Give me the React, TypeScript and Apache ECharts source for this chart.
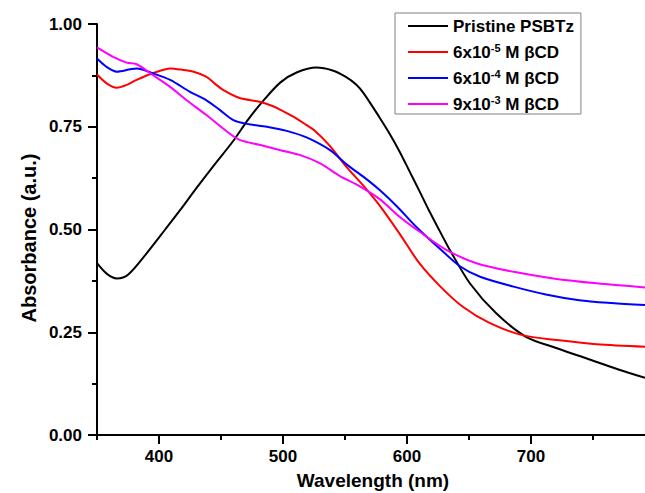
import React, { useEffect, useRef } from "react";
import * as echarts from "echarts";

const FONT = "'Liberation Sans', Arial, Helvetica, sans-serif";

const seriesNames = ["Pristine PSBTz", "6x10-5 M βCD", "6x10-4 M βCD", "9x10-3 M βCD"];
const legendRich = ["Pristine PSBTz", "6x10{sup|-5} M βCD", "6x10{sup|-4} M βCD", "9x10{sup|-3} M βCD"];
const seriesColors = ["#000000", "#ff0000", "#0000ff", "#ff00ff"];

const xMajorTicks = [400, 500, 600, 700];
const xMinorTicks = [350, 450, 550, 650, 750];

const pristineX = [350, 358, 366, 375, 390, 405, 417, 430, 444, 460, 472, 484, 498, 511, 527, 540, 551, 559, 565, 578, 586, 594, 602, 610, 618, 627, 635, 651, 672, 696, 721, 746, 770, 792];
const pristineY = [0.418, 0.392, 0.381, 0.39, 0.442, 0.5, 0.547, 0.6, 0.655, 0.716, 0.768, 0.813, 0.858, 0.882, 0.894, 0.887, 0.871, 0.853, 0.832, 0.772, 0.733, 0.69, 0.642, 0.594, 0.545, 0.493, 0.448, 0.368, 0.296, 0.239, 0.211, 0.185, 0.16, 0.139];

const cd5X = [350, 358, 366, 374, 382, 395, 409, 420, 428, 438, 445, 452, 465, 481, 492, 498, 511, 519, 525, 538, 551, 565, 578, 594, 610, 627, 645, 667, 693, 721, 753, 792];
const cd5Y = [0.877, 0.855, 0.845, 0.852, 0.864, 0.88, 0.892, 0.888, 0.884, 0.872, 0.855, 0.839, 0.82, 0.811, 0.8, 0.791, 0.77, 0.754, 0.742, 0.703, 0.653, 0.606, 0.558, 0.49, 0.418, 0.361, 0.312, 0.272, 0.243, 0.231, 0.221, 0.215];

const cd4X = [350, 358, 366, 377, 382, 395, 409, 425, 438, 449, 460, 471, 487, 503, 519, 538, 551, 565, 578, 592, 608, 627, 643, 659, 686, 712, 739, 765, 792];
const cd4Y = [0.916, 0.895, 0.884, 0.89, 0.892, 0.88, 0.864, 0.835, 0.815, 0.791, 0.766, 0.757, 0.75, 0.74, 0.724, 0.693, 0.659, 0.628, 0.596, 0.556, 0.505, 0.452, 0.41, 0.385, 0.361, 0.342, 0.328, 0.321, 0.316];

const cd3X = [350, 363, 374, 382, 395, 409, 422, 438, 455, 465, 481, 498, 514, 530, 546, 562, 578, 594, 610, 632, 656, 686, 718, 753, 792];
const cd3Y = [0.943, 0.92, 0.906, 0.902, 0.876, 0.847, 0.815, 0.779, 0.738, 0.718, 0.706, 0.693, 0.681, 0.661, 0.63, 0.605, 0.574, 0.531, 0.495, 0.45, 0.418, 0.397, 0.381, 0.369, 0.359];

const allX = [pristineX, cd5X, cd4X, cd3X];
const allY = [pristineY, cd5Y, cd4Y, cd3Y];

export default function App() {
  const ref = useRef<HTMLDivElement>(null);
  useEffect(() => {
    if (!ref.current) return;
    const chart = echarts.init(ref.current, null, { renderer: "svg" });
    const series = seriesNames.map((name, i) => ({
      name,
      type: "line",
      xAxisIndex: 0,
      showSymbol: false,
      smooth: 0.3,
      lineStyle: { color: seriesColors[i], width: 2 },
      itemStyle: { color: seriesColors[i] },
      data: allX[i].map((x, j) => [x, allY[i][j]]),
    }));
    chart.setOption({
      animation: false,
      backgroundColor: "#ffffff",
      grid: { left: 97, top: 24, right: 0, bottom: 58, containLabel: false },
      legend: {
        orient: "vertical",
        left: 395,
        top: 13,
        padding: [3, 7, 0, 13],
        itemGap: 6,
        itemWidth: 40,
        itemHeight: 2,
        itemTextGap: 6,
        icon: "rect",
        borderColor: "#808080",
        borderWidth: 1,
        backgroundColor: "#ffffff",
        data: seriesNames,
        formatter: (name: string) => legendRich[seriesNames.indexOf(name)],
        textStyle: {
          fontFamily: FONT,
          fontSize: 17,
          fontWeight: "bold",
          color: "#000",
          lineHeight: 20,
          rich: {
            sup: { fontFamily: FONT, fontSize: 11, fontWeight: "bold", color: "#000", verticalAlign: "top", lineHeight: 12 },
          },
        },
      },
      xAxis: [
        {
          type: "value",
          min: 350,
          max: 792,
          position: "bottom",
          axisLine: { show: true, lineStyle: { color: "#000", width: 2 } },
          axisTick: { show: true, inside: false, length: 9, customValues: xMajorTicks, lineStyle: { color: "#000", width: 2 } },
          axisLabel: { show: true, customValues: xMajorTicks, margin: 13, fontFamily: FONT, fontSize: 17, fontWeight: "bold", color: "#000" },
          splitLine: { show: false },
        },
        {
          type: "value",
          min: 350,
          max: 792,
          position: "bottom",
          axisLine: { show: false },
          axisTick: { show: true, inside: false, length: 5, customValues: xMinorTicks, lineStyle: { color: "#000", width: 2 } },
          axisLabel: { show: false },
          splitLine: { show: false },
        },
      ],
      yAxis: {
        type: "value",
        min: 0,
        max: 1,
        interval: 0.25,
        axisLine: { show: true, lineStyle: { color: "#000", width: 2 } },
        axisTick: { show: true, inside: false, length: 9, lineStyle: { color: "#000", width: 2 } },
        minorTick: { show: true, splitNumber: 2, length: 5, lineStyle: { color: "#000", width: 2 } },
        axisLabel: {
          margin: 15,
          fontFamily: FONT,
          fontSize: 17,
          fontWeight: "bold",
          color: "#000",
          formatter: (v: number) => v.toFixed(2),
        },
        splitLine: { show: false },
      },
      graphic: [
        {
          type: "text",
          x: 373,
          y: 480,
          style: { text: "Wavelength (nm)", fontFamily: FONT, fontSize: 19, fontWeight: "bold", fill: "#000", align: "center", verticalAlign: "middle" },
        },
        {
          type: "text",
          x: 29,
          y: 238,
          rotation: Math.PI / 2,
          style: { text: "Absorbance (a.u.)", fontFamily: FONT, fontSize: 20, fontWeight: "bold", fill: "#000", align: "center", verticalAlign: "middle" },
        },
      ],
      series,
    });
    return () => chart.dispose();
  }, []);
  return <div ref={ref} style={{ position: "fixed", left: 0, top: 0, width: 645, height: 493 }} />;
}
